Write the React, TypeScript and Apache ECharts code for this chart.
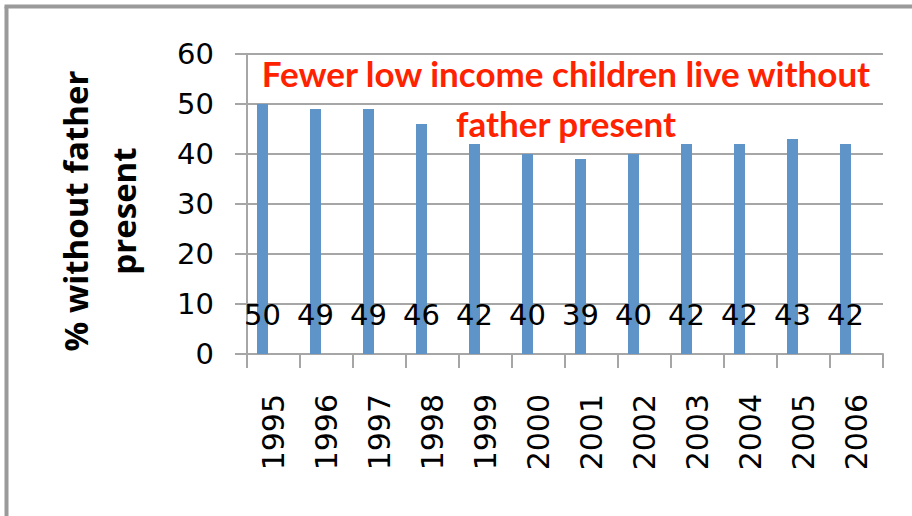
import React, { useEffect, useRef } from "react";
import * as echarts from "echarts";

const years = ["1995", "1996", "1997", "1998", "1999", "2000", "2001", "2002", "2003", "2004", "2005", "2006"];
const pctWithoutFather = [50, 49, 49, 46, 42, 40, 39, 40, 42, 42, 43, 42];
const spacer = [null, null, null, null, null, null, null, null, null, null, null, null];
const yTicks = { min: 0, max: 60, interval: 10 };
const titleText = "Fewer low income children live without\nfather present";
const yAxisTitle = "% without father\npresent";

export default function App() {
  const ref = useRef<HTMLDivElement>(null);
  useEffect(() => {
    document.body.style.margin = "0";
    document.body.style.overflow = "hidden";
    const chart = echarts.init(ref.current!, null, { renderer: "svg" });
    const gray = "#A6A6A6";
    chart.setOption({
      animation: false,
      backgroundColor: "#ffffff",
      grid: { left: 247, right: 29, top: 54, bottom: 162, containLabel: false },
      xAxis: {
        type: "category",
        data: years,
        axisLine: { show: true, lineStyle: { color: gray, width: 2 } },
        axisTick: { show: true, length: 14, lineStyle: { color: gray, width: 2 } },
        axisLabel: {
          rotate: 90,
          margin: 40,
          fontFamily: "DejaVu Sans",
          fontSize: 30,
          color: "#000",
        },
        splitLine: { show: false },
      },
      yAxis: {
        type: "value",
        min: yTicks.min,
        max: yTicks.max,
        interval: yTicks.interval,
        name: yAxisTitle,
        nameLocation: "middle",
        nameRotate: 90,
        nameGap: 100,
        nameTextStyle: {
          fontFamily: "Open Sans",
          fontWeight: "bold",
          fontSize: 33,
          lineHeight: 48,
          color: "#000",
          padding: [0, 14, 0, 0],
        },
        axisLine: { show: true, lineStyle: { color: gray, width: 2 } },
        axisTick: { show: true, length: 12, lineStyle: { color: gray, width: 2 } },
        axisLabel: {
          margin: 33,
          fontFamily: "DejaVu Sans",
          fontSize: 29,
          color: "#000",
        },
        splitLine: { show: true, lineStyle: { color: gray, width: 2 } },
      },
      graphic: [
        {
          type: "line",
          shape: { x1: 6.5, y1: 6.5, x2: 6.5, y2: 516 },
          style: { stroke: "#9A9A9A", lineWidth: 4 },
          silent: true,
        },
        {
          type: "line",
          shape: { x1: 4.5, y1: 6.5, x2: 912, y2: 6.5 },
          style: { stroke: "#9A9A9A", lineWidth: 4 },
          silent: true,
        },
        {
          type: "text",
          x: 566,
          y: 48,
          style: {
            text: titleText,
            align: "center",
            verticalAlign: "top",
            fontFamily: "Lato",
            fontWeight: "bold",
            fontSize: 35,
            lineHeight: 50,
            fill: "#FF2200",
          },
          z: 10,
        },
      ],
      series: [
        {
          type: "bar",
          name: "% without father present",
          data: pctWithoutFather,
          barWidth: 11,
          barGap: "100%",
          itemStyle: { color: "#5F94C8" },
          label: {
            show: true,
            position: "insideBottom",
            distance: 25,
            fontFamily: "DejaVu Sans",
            fontSize: 29,
            color: "#000",
          },
        },
        {
          type: "bar",
          name: "spacer",
          data: spacer,
          barWidth: 11,
          itemStyle: { color: "transparent" },
        },
      ],
    });
    return () => chart.dispose();
  }, []);
  return <div ref={ref} style={{ width: 912, height: 516 }} />;
}
